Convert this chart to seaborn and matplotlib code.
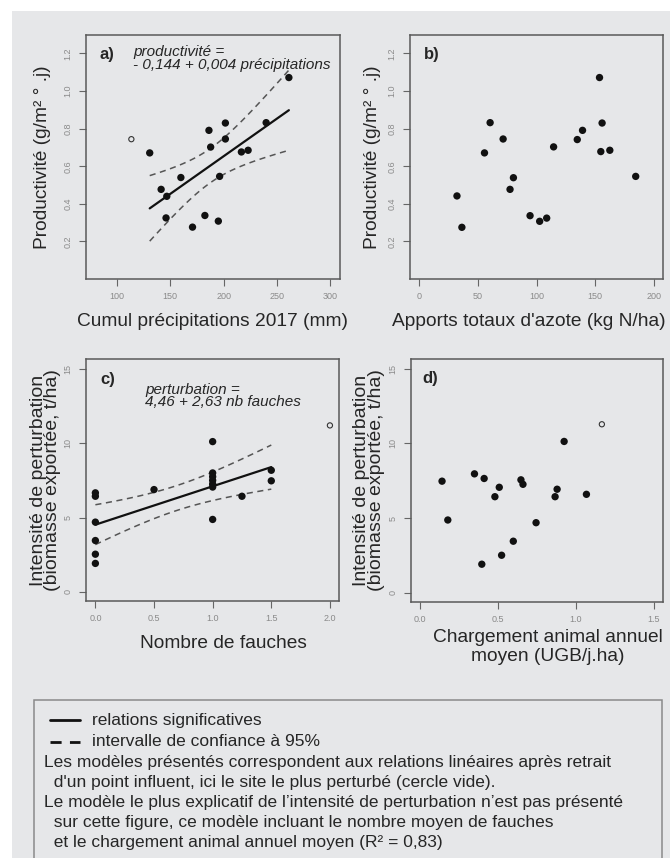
import numpy as np
import pandas as pd
import seaborn as sns
import matplotlib
matplotlib.use("Agg")
import matplotlib.pyplot as plt
from matplotlib.lines import Line2D
from matplotlib.patches import Rectangle

# a) productivity vs cumulated rainfall (filled points used in the model)
precip = [130.7, 141.4, 146.7, 146.0, 159.9, 170.8, 182.4, 186.2, 187.8,
          195.0, 196.2, 201.6, 201.6, 216.6, 222.9, 239.8, 261.1]
prod_a = [0.671, 0.477, 0.440, 0.325, 0.540, 0.276, 0.338, 0.791, 0.702,
          0.308, 0.546, 0.830, 0.745, 0.676, 0.685, 0.832, 1.072]
precip_out = [113.5]
prod_a_out = [0.744]

# b) productivity vs total nitrogen
azote = [32.1, 36.3, 55.6, 60.4, 71.5, 77.4, 80.3, 94.5, 102.7, 108.7,
         114.6, 134.8, 139.3, 153.8, 154.9, 156.0, 162.6, 184.7]
prod_b = [0.442, 0.275, 0.671, 0.832, 0.745, 0.477, 0.539, 0.337, 0.307, 0.324,
          0.703, 0.742, 0.791, 1.072, 0.678, 0.830, 0.685, 0.546]

# c) disturbance vs number of mowings
fauches = [0, 0, 0, 0, 0, 0, 0.5, 1, 1, 1, 1, 1, 1, 1, 1.25, 1.5, 1.5]
perturb_c = [6.66, 6.43, 4.69, 3.45, 2.53, 1.91, 6.88, 10.11, 8.0, 7.75,
             7.5, 7.25, 7.05, 4.87, 6.43, 8.18, 7.47]
fauches_out = [2.0]
perturb_c_out = [11.2]

# d) disturbance vs annual stocking rate
chargement = [0.141, 0.178, 0.349, 0.396, 0.411, 0.480, 0.508, 0.523, 0.598,
              0.647, 0.660, 0.744, 0.866, 0.879, 0.924, 1.067]
perturb_d = [7.47, 4.87, 7.96, 1.91, 7.65, 6.43, 7.06, 2.51, 3.45,
             7.56, 7.26, 4.69, 6.43, 6.93, 10.13, 6.59]
chargement_out = [1.166]
perturb_d_out = [11.28]

ticks_prod = [0.2, 0.4, 0.6, 0.8, 1.0, 1.2]
ticks_pert = [0, 5, 10, 15]

legend_lines = [
    "Les modèles présentés correspondent aux relations linéaires après retrait",
    "  d'un point influent, ici le site le plus perturbé (cercle vide).",
    "Le modèle le plus explicatif de l\u2019intensité de perturbation n\u2019est pas présenté",
    "  sur cette figure, ce modèle incluant le nombre moyen de fauches",
    "  et le chargement animal annuel moyen (R² = 0,83)",
]

BG = "#e6e7e9"
W, H = 670, 858

sns.set_style("white", {"axes.facecolor": BG, "axes.edgecolor": "#555555"})
plt.rcParams['font.family'] = ['Liberation Sans', 'DejaVu Sans']


def fit_ci(x, y, t=2.131, n=60):
    x = np.asarray(x, float)
    y = np.asarray(y, float)
    slope, intercept = np.polyfit(x, y, 1)
    xs = np.linspace(x.min(), x.max(), n)
    resid = y - (intercept + slope * x)
    s = np.sqrt(np.sum(resid ** 2) / (len(x) - 2))
    se = s * np.sqrt(1 / len(x) + (xs - x.mean()) ** 2 / np.sum((x - x.mean()) ** 2))
    fit = intercept + slope * xs
    return pd.DataFrame({"x": xs, "fit": fit, "lo": fit - t * se, "hi": fit + t * se})


def px_axes(fig, l, t, r, b):
    return fig.add_axes([l / W, 1 - b / H, (r - l) / W, (b - t) / H])


def style(ax, xlim, ylim, xticks, yticks, xfmt, yfmt):
    ax.set_xlim(*xlim)
    ax.set_ylim(*ylim)
    ax.set_xticks(xticks)
    ax.set_yticks(yticks)
    ax.set_xticklabels([xfmt.format(v) for v in xticks])
    ax.set_yticklabels([yfmt.format(v) for v in yticks])
    ax.tick_params(axis="both", direction="out", length=5, width=0.8,
                   color="#666666", labelcolor="#8a8a8a", labelsize=6.5,
                   bottom=True, left=True, pad=4.5)
    ax.tick_params(axis="y", labelrotation=90)
    plt.setp(ax.get_yticklabels(), va="center")
    for sp in ax.spines.values():
        sp.set_color("#5a5a5a")
        sp.set_linewidth(1.1)


def points(ax, x, y, xo=None, yo=None):
    sns.scatterplot(x=x, y=y, ax=ax, color="#111111", s=28, edgecolor="none", zorder=3)
    if xo is not None:
        sns.scatterplot(x=xo, y=yo, ax=ax, s=14, facecolor="none",
                        edgecolor="#333333", linewidth=0.8, zorder=3)


def reg(ax, x, y):
    d = fit_ci(x, y)
    sns.lineplot(data=d, x="x", y="fit", ax=ax, color="#111111", lw=1.6)
    sns.lineplot(data=d, x="x", y="lo", ax=ax, color="#555555", lw=1.1, linestyle=(0, (4, 3)))
    sns.lineplot(data=d, x="x", y="hi", ax=ax, color="#555555", lw=1.1, linestyle=(0, (4, 3)))


fig = plt.figure(figsize=(W / 100, H / 100), dpi=100)
fig.patch.set_facecolor("white")
fig.patches.append(Rectangle((12 / W, 0), 1, 1 - 11 / H, transform=fig.transFigure,
                             facecolor=BG, edgecolor="none", zorder=-10))

lab_fs = 13.8
two_fs = 14

# panel a
ax = px_axes(fig, 86, 34.7, 340, 279)
points(ax, precip, prod_a, precip_out, prod_a_out)
reg(ax, precip, prod_a)
style(ax, (71, 309), (0, 1.3), [100, 150, 200, 250, 300], ticks_prod, "{:d}", "{:.1f}")
ax.set_xlabel("Cumul précipitations 2017 (mm)", fontsize=lab_fs, va="center")
ax.xaxis.set_label_coords(0.498, -0.176)
ax.set_ylabel("Productivité (g/m² ° .j)", fontsize=lab_fs, va="center")
ax.yaxis.set_label_coords(-0.173, 0.5)
ax.text(0.055, 0.918, "a)", transform=ax.transAxes, fontsize=12, fontweight="bold", va="center")
ax.text(0.185, 0.903, "productivité =\n- 0,144 + 0,004 précipitations", transform=ax.transAxes,
        fontsize=11, style="italic", va="center", linespacing=0.85)

# panel b
ax = px_axes(fig, 410, 34.7, 663, 279)
points(ax, azote, prod_b)
style(ax, (-8, 208), (0, 1.3), [0, 50, 100, 150, 200], ticks_prod, "{:d}", "{:.1f}")
ax.set_xlabel("Apports totaux d'azote (kg N/ha)", fontsize=lab_fs, va="center")
ax.xaxis.set_label_coords(0.47, -0.176)
ax.set_ylabel("Productivité (g/m² ° .j)", fontsize=lab_fs, va="center")
ax.yaxis.set_label_coords(-0.15, 0.5)
ax.text(0.055, 0.918, "b)", transform=ax.transAxes, fontsize=12, fontweight="bold", va="center")

# panel c
ax = px_axes(fig, 86, 359.3, 339.3, 600.7)
points(ax, fauches, perturb_c, fauches_out, perturb_c_out)
reg(ax, fauches, perturb_c)
style(ax, (-0.08, 2.08), (-0.6, 15.65), [0, 0.5, 1, 1.5, 2], ticks_pert, "{:.1f}", "{:d}")
ax.set_xlabel("Nombre de fauches", fontsize=lab_fs, va="center")
ax.xaxis.set_label_coords(0.543, -0.176)
ax.set_ylabel("Intensité de perturbation\n(biomasse exportée, t/ha)", fontsize=two_fs,
              va="center", linespacing=0.8)
ax.yaxis.set_label_coords(-0.16, 0.5)
ax.text(0.055, 0.918, "c)", transform=ax.transAxes, fontsize=12, fontweight="bold", va="center")
ax.text(0.233, 0.848, "perturbation =\n4,46 + 2,63 nb fauches", transform=ax.transAxes,
        fontsize=11, style="italic", va="center", linespacing=0.85)

# panel d
ax = px_axes(fig, 410.7, 359, 663.3, 601.7)
points(ax, chargement, perturb_d, chargement_out, perturb_d_out)
style(ax, (-0.06, 1.56), (-0.6, 15.65), [0, 0.5, 1, 1.5], ticks_pert, "{:.1f}", "{:d}")
ax.set_xlabel("Chargement animal annuel\nmoyen (UGB/j.ha)", fontsize=lab_fs, va="center",
              linespacing=1.15)
ax.xaxis.set_label_coords(0.544, -0.185)
ax.set_ylabel("Intensité de perturbation\n(biomasse exportée, t/ha)", fontsize=two_fs,
              va="center", linespacing=0.8)
ax.yaxis.set_label_coords(-0.165, 0.5)
ax.text(0.048, 0.918, "d)", transform=ax.transAxes, fontsize=12, fontweight="bold", va="center")

# legend / caption box
fig.patches.append(Rectangle((34 / W, -0.01), (662 - 34) / W, 1 - 700 / H + 0.01,
                             transform=fig.transFigure, facecolor="none",
                             edgecolor="#8a8a8a", linewidth=1.1))
fig.lines.append(Line2D([50 / W, 80 / W], [1 - 720 / H] * 2, transform=fig.transFigure,
                        color="#111111", lw=2))
fig.lines.append(Line2D([50 / W, 80 / W], [1 - 742 / H] * 2, transform=fig.transFigure,
                        color="#111111", lw=2, linestyle=(0, (4, 3))))
cap_fs = 12.5
fig.text(92 / W, 1 - 720 / H, "relations significatives", fontsize=cap_fs, va="center")
fig.text(92 / W, 1 - 742 / H, "intervalle de confiance à 95%", fontsize=cap_fs, va="center")
for i, line in enumerate(legend_lines):
    fig.text(44 / W, 1 - (763 + 20 * i) / H, line, fontsize=cap_fs, va="center")

fig.savefig("out.png", dpi=100)
